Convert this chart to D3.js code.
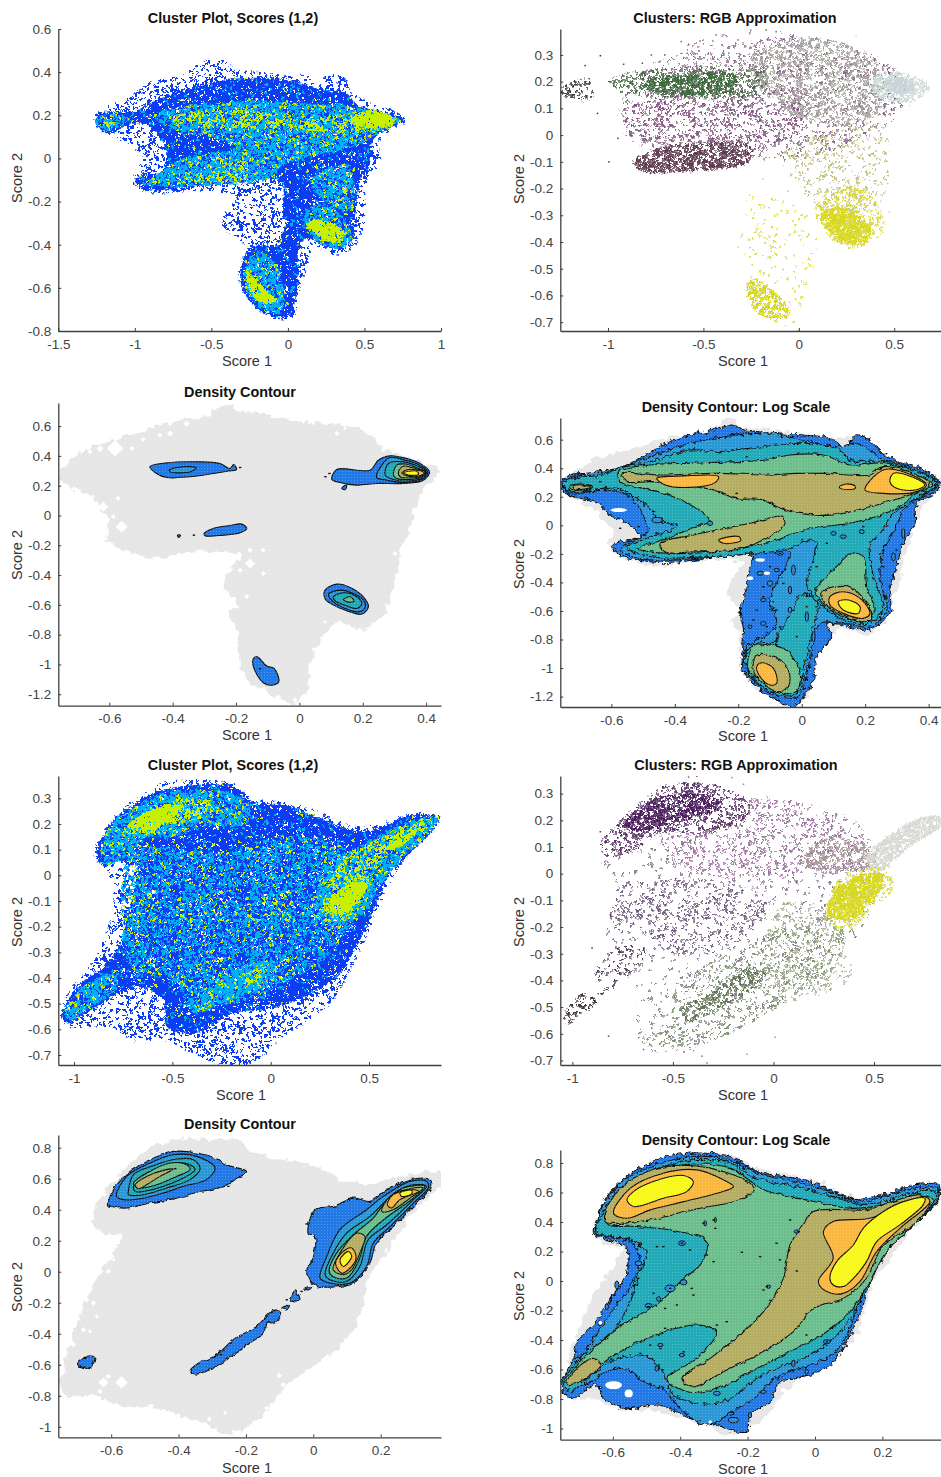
<!DOCTYPE html>
<html><head><meta charset="utf-8">
<script src="https://cdn.jsdelivr.net/npm/d3@7"></script>
<style>html,body{margin:0;background:#fff}svg{display:block}</style></head>
<body><svg id="c" width="941" height="1477"></svg>
<script>
// ---------- Panel 1: Cluster plot (density classes)
const p1Sparse=[[-1.27,.17],[-1.25,.21],[-1.12,.26],[-1.01,.30],[-.88,.36],[-.68,.39],[-.55,.455],[-.42,.45],[-.335,.415],[-.16,.40],[.01,.385],[.12,.385],[.19,.35],[.25,.385],[.36,.38],[.415,.31],[.535,.26],[.71,.215],[.775,.175],[.69,.14],[.60,.085],[.60,-.015],[.515,-.105],[.505,-.26],[.47,-.37],[.34,-.45],[.165,-.415],[.12,-.52],[.08,-.6],[.035,-.735],[-.05,-.745],[-.205,-.70],[-.30,-.60],[-.325,-.52],[-.27,-.415],[-.42,-.32],[-.42,-.26],[-.335,-.18],[-.575,-.15],[-.90,-.16],[-1.01,-.12],[-1.0,-.06],[-.945,0],[-1.01,.05],[-1.08,.085],[-1.185,.11]];
const p1Dense=[[-1.26,.17],[-1.2,.215],[-1.01,.215],[-.92,.25],[-.75,.30],[-.6,.33],[-.335,.37],[-.03,.365],[.19,.325],[.385,.30],[.45,.25],[.625,.215],[.755,.18],[.665,.14],[.555,.085],[.535,-.03],[.47,-.105],[.44,-.26],[.415,-.385],[.30,-.42],[.12,-.37],[.07,-.415],[.07,-.555],[.01,-.72],[-.075,-.735],[-.205,-.69],[-.30,-.6],[-.30,-.49],[-.25,-.415],[-.05,-.385],[-.03,-.215],[-.05,-.105],[-.335,-.115],[-.68,-.135],[-.92,-.145],[-1.0,-.105],[-.945,-.075],[-.835,-.065],[-.79,.015],[-.835,.095],[-.92,.155],[-1.05,.155],[-1.16,.115]];
const p1Cyan=[
[[-.88,.20],[-.684,.24],[-.466,.255],[-.205,.27],[.10,.255],[.405,.24],[.623,.214],[.732,.178],[.645,.14],[.536,.094],[.405,.048],[.187,.017],[-.03,-.03],[-.16,-.106],[-.466,-.122],[-.815,-.13],[-.924,-.106],[-.815,-.06],[-.684,0],[-.335,.048],[-.466,.094],[-.77,.14]],
[[-1.26,.17],[-1.175,.205],[-1.03,.18],[-1.175,.13]],
[[.10,-.275],[.185,-.215],[.32,-.245],[.415,-.37],[.32,-.415],[.165,-.37]],
[[.145,-.105],[.385,-.03],[.415,-.245],[.25,-.2]],
[[-.28,-.505],[-.205,-.43],[-.075,-.49],[-.03,-.615],[-.05,-.72],[-.205,-.675],[-.28,-.6]]];
const p1Yellow=[
[[-.79,.185],[-.466,.225],[-.16,.215],[.187,.185],[.45,.21],[.71,.178],[.536,.125],[.187,.125],[-.16,.14],[-.466,.14],[-.684,.155]],
[[-.705,-.106],[-.53,-.06],[-.27,-.014],[-.27,-.09],[-.53,-.106]],
[[-1.23,.163],[-1.12,.17],[-1.185,.148]]];
const p1Solid=[
[[.405,.178],[.536,.225],[.69,.186],[.69,.155],[.514,.14]],
[[.12,-.306],[.21,-.283],[.36,-.337],[.34,-.39],[.253,-.383]],
[[-.27,-.52],[-.205,-.568],[-.075,-.66],[-.16,-.675],[-.248,-.614]]];
// ---------- Panel 5: Cluster plot
const p5Sparse=[[-1.07,-.544],[-1.02,-.447],[-.934,-.369],[-.85,-.252],[-.80,-.083],[-.832,.02],[-.90,.073],[-.832,.19],[-.73,.274],[-.613,.332],[-.545,.365],[-.376,.371],[-.173,.352],[-.105,.30],[.064,.287],[.217,.255],[.403,.196],[.555,.196],[.707,.242],[.86,.235],[.843,.19],[.741,.112],[.657,.034],[.572,-.083],[.487,-.239],[.403,-.369],[.318,-.486],[.064,-.629],[-.105,-.732],[-.274,-.732],[-.393,-.694],[-.562,-.642],[-.70,-.642],[-.816,-.59],[-1.02,-.59]];
const p5Dense=[[-1.06,-.544],[-.985,-.434],[-.85,-.356],[-.782,-.291],[-.731,-.174],[-.697,.047],[-.883,.053],[-.866,.125],[-.80,.216],[-.714,.268],[-.579,.326],[-.376,.352],[-.19,.345],[-.122,.294],[.064,.274],[.233,.229],[.403,.177],[.538,.177],[.69,.229],[.851,.229],[.826,.177],[.707,.086],[.606,.008],[.538,-.109],[.453,-.252],[.352,-.382],[.233,-.447],[.047,-.512],[-.19,-.538],[-.393,-.616],[-.528,-.59],[-.545,-.486],[-.697,-.434],[-.832,-.486],[-.968,-.551],[-1.036,-.577]];
const p5CyanLow=[[[-.731,.06],[-.613,.112],[-.274,.086],[.064,.151],[.318,.125],[.403,.021],[.437,-.135],[.284,-.317],[.064,-.421],[-.19,-.499],[-.409,-.525],[-.477,-.421],[-.697,-.369],[-.748,-.239]]];
const p5Cyan=[
[[-.866,.06],[-.816,.19],[-.714,.255],[-.562,.319],[-.359,.332],[-.19,.319],[-.105,.268],[-.122,.203],[-.359,.19],[-.477,.151],[-.646,.144],[-.731,.073],[-.832,.04]],
[[.233,-.135],[.284,.021],[.504,.138],[.673,.203],[.851,.229],[.775,.138],[.657,.06],[.555,-.044],[.453,-.161],[.318,-.187]],
[[-1.05,-.538],[-.951,-.434],[-.799,-.382],[-.782,-.434],[-.934,-.525],[-1.02,-.564]],
[[-.409,-.525],[-.274,-.421],[-.105,-.343],[.03,-.343],[-.037,-.434],[-.206,-.486],[-.376,-.538]]];
const p5Yellow=[
[[-.748,.177],[-.613,.255],[-.41,.30],[-.274,.28],[-.325,.229],[-.528,.19],[-.663,.151]],
[[.267,-.135],[.369,.06],[.572,.151],[.81,.222],[.707,.138],[.555,.047],[.453,-.109],[.369,-.174]],
[[-.139,-.395],[-.037,-.356],[-.054,-.408],[-.139,-.421]]];
const p5Solid=[
[[.318,-.083],[.403,-.031],[.487,-.031],[.386,-.148],[.301,-.135]],
[[.572,.099],[.741,.177],[.673,.118]],
[[-.731,.19],[-.545,.274],[-.443,.268],[-.613,.177]]];
// ---------- Panel 2: RGB approximation, regions: [colour, density class, outline]
const p2Regions=[
["#8a6a88","low",[[-.95,.05],[-.8,.25],[-.4,.33],[0,.37],[.4,.3],[.6,.15],[.45,.03],[.2,-.05],[-.1,-.1],[-.4,-.05],[-.8,-.05]]],
["#9a7a98","vlow",[[-.642,.319],[-.433,.375],[-.171,.394],[.056,.362],[.056,.25],[-.258,.25],[-.607,.25]]],
["#85507f","low",[[-.887,.137],[-.433,.15],[.056,.162],[.021,.037],[-.188,-.05],[-.572,-.025],[-.8,-.025],[-.904,.012]]],
["#4a6a45","mid",[[-.991,.206],[-.87,.237],[-.346,.256],[-.171,.237],[-.188,.162],[-.782,.144],[-.991,.175]]],
["#3c3c3c","mid",[[-1.25,.175],[-1.09,.21],[-1.09,.131],[-1.25,.15]]],
["#3d6a3d","high",[[-.80,.2],[-.66,.219],[-.328,.225],[-.328,.169],[-.64,.15],[-.80,.169]]],
["#5f3a50","high",[[-.87,-.1],[-.712,-.044],[-.433,-.025],[-.258,-.037],[-.258,-.1],[-.607,-.137],[-.817,-.137]]],
["#a8a8a0","mid",[[-.258,.287],[.056,.362],[.265,.337],[.405,.275],[.44,.1],[.265,.037],[.056,.05],[-.153,.125]]],
["#cddbd6","high",[[.37,.187],[.44,.237],[.527,.237],[.684,.181],[.614,.131],[.44,.131]]],
["#c8d4d8","full",[[.44,.19],[.53,.219],[.61,.181],[.54,.15]]],
["#c0c080","low",[[-.101,-.088],[.096,0],[.44,.037],[.475,-.088],[.44,-.238],[.37,-.288],[.09,-.262],[-.014,-.175]]],
["#dcdc50","vlow",[[-.31,-.412],[-.258,-.225],[-.014,-.262],[.09,-.338],[.073,-.512],[.021,-.662],[-.049,-.725],[-.171,-.688],[-.276,-.588],[-.276,-.5]]],
["#d8d840","mid",[[.09,-.262],[.23,-.188],[.37,-.212],[.44,-.362],[.265,-.425],[.108,-.338]]],
["#d8d820","full",[[.108,-.3],[.213,-.269],[.353,-.325],[.387,-.375],[.265,-.412],[.16,-.362]]],
["#d4d41c","high",[[-.276,-.575],[-.241,-.538],[-.101,-.6],[-.049,-.675],[-.136,-.688],[-.223,-.662]]]];
const p2PointX=[-1.04,-1.12,-1.055,-.918,-.82,-.773,-.703,-.616,-.517,-.433,-.319,-.171,-.119,.056,.3,-.995,-.948,-.188,-.258,-.058,.475,.466,-.319,-.005];
const p2PointY=[.297,.26,.081,.265,.269,.3,.3,.35,.352,.375,.356,.394,.387,.362,.369,-.1,-.012,-.165,-.225,-.21,-.288,-.181,-.419,-.731];
const p2PointC=["#333","#333","#333","#456","#456","#654","#654","#865","#865","#865","#865","#865","#865","#9a9","#cdc","#533","#533","#cc9","#dd6","#cc8","#dd6","#cc8","#dd6","#dd3"];
// ---------- Panel 6
const p6Regions=[
["#8a7a90","vlow",[[-.85,.05],[-.6,.1],[-.2,.25],[.3,.2],[.55,.05],[.45,-.2],[.3,-.35],[0,-.5],[-.3,-.65],[-.65,-.65],[-.7,-.4],[-.85,-.35],[-.8,-.1]]],
["#a070a0","low",[[-.116,.275],[.215,.25],[.463,.163],[.463,.014],[.215,.014],[-.017,-.024],[-.281,-.011],[-.447,.026],[-.563,.138],[-.116,.176]]],
["#6f5a80","low",[[-.712,-.036],[-.281,-.024],[-.017,-.111],[-.182,-.26],[-.447,-.31],[-.645,-.235],[-.793,-.21],[-.81,-.073]]],
["#4a3a55","low",[[-.893,-.385],[-.727,-.26],[-.628,-.285],[-.76,-.41],[-.86,-.46]]],
["#7d9070","low",[[-.53,-.559],[-.48,-.422],[-.149,-.273],[.132,-.186],[.348,-.21],[.298,-.36],[.05,-.484],[-.248,-.609],[-.447,-.659],[-.679,-.621]]],
["#a8b090","low",[[.05,-.111],[.265,-.148],[.348,-.235],[.38,-.385],[.083,-.472],[-.05,-.36]]],
["#5a7050","mid",[[-.464,-.51],[-.314,-.447],[-.116,-.347],[-.033,-.372],[-.116,-.435],[-.314,-.522],[-.43,-.553]]],
["#3c3038","mid",[[-1.043,-.534],[-.943,-.447],[-.876,-.484],[-.976,-.534],[-1.026,-.565]]],
["#5a3468","mid",[[-.86,.113],[-.76,.2],[-.645,.281],[-.53,.331],[-.281,.331],[-.116,.263],[-.132,.2],[-.314,.151],[-.563,.151],[-.695,.088],[-.843,.063]]],
["#4a1a5c","high",[[-.752,.182],[-.645,.257],[-.48,.3],[-.281,.281],[-.265,.244],[-.447,.2],[-.612,.163],[-.711,.157]]],
["#a89a98","mid",[[.182,.101],[.38,.138],[.513,.076],[.463,.014],[.281,.001],[.149,.039]]],
["#d8d8d4","full",[[.463,.064],[.612,.163],[.745,.213],[.828,.213],[.828,.176],[.679,.101],[.546,.014],[.48,.001]]],
["#d8d840","mid",[[.25,-.17],[.33,-.02],[.55,.02],[.6,-.05],[.48,-.14],[.4,-.2],[.3,-.2]]],
["#d8d820","full",[[.265,-.136],[.348,-.036],[.53,.001],[.546,-.042],[.463,-.123],[.397,-.173],[.315,-.173]]]];
const p6PointX=[-.82,-.646,-.902,-.861,-.381,-.422,-.207,-.149,-.331,-.356,-.132,.008,.579,.19,-.811,-.712];
const p6PointY=[-.609,-.659,-.279,.157,.365,.362,.36,.335,-.709,-.684,-.677,-.613,-.042,.257,-.154,-.042];
const p6PointC=["#555","#675","#534","#534","#858","#858","#a7a","#a7a","#786","#786","#8a7","#9a8","#cc6","#c9c","#534","#534"];
// ---------- Panels 3 and 4 share the density support
const gray34=[[-.761,.304],[-.724,.371],[-.661,.461],[-.556,.528],[-.493,.562],[-.429,.617],[-.366,.64],[-.293,.662],[-.251,.74],[-.214,.752],[-.198,.685],[-.114,.685],[-.008,.64],[.076,.617],[.139,.617],[.202,.573],[.265,.438],[.349,.394],[.449,.304],[.402,.192],[.371,.103],[.355,-.031],[.318,-.255],[.307,-.412],[.281,-.568],[.265,-.68],[.202,-.77],[.118,-.702],[.065,-.837],[.034,-.993],[.023,-1.195],[-.024,-1.273],[-.072,-1.217],[-.156,-1.128],[-.187,-1.016],[-.198,-.747],[-.229,-.658],[-.187,-.613],[-.24,-.479],[-.219,-.367],[-.177,-.255],[-.261,-.233],[-.366,-.255],[-.472,-.289],[-.556,-.233],[-.608,-.177],[-.598,-.031],[-.64,.081],[-.661,.125],[-.724,.192],[-.756,.237]];
const holes3=[[-.582,.45,.026],[-.629,.45,.011],[-.661,.427,.008],[-.529,.45,.008],[-.493,.51,.008],[-.44,.539,.008],[-.408,.55,.01],[-.356,.617,.01],[-.408,.617,.008],[-.572,.114,.008],[-.619,.058,.016],[-.587,-.009,.008],[-.561,-.076,.019],[-.156,-.233,.008],[-.114,-.233,.008],[-.156,-.322,.016],[-.114,-.389,.008],[-.187,-.367,.008],[-.166,-.546,.008],[.118,.55,.008],[.144,.584,.006],[.013,.629,.006],[.071,.629,.006],[.302,-.255,.008],[.081,-.714,.006],[-.014,-1.239,.008]];
const p3Contours=[
[0,[[-.472,.327],[-.419,.353],[-.324,.36],[-.251,.349],[-.219,.315],[-.208,.342],[-.198,.309],[-.224,.298],[-.282,.278],[-.345,.26],[-.419,.255],[-.451,.282]]],
[1,[[-.411,.304],[-.366,.327],[-.326,.32],[-.34,.295],[-.382,.286],[-.406,.291]]],
[0,[[.102,.242],[.118,.309],[.223,.304],[.249,.371],[.286,.4],[.339,.382],[.381,.349],[.411,.293],[.392,.237],[.328,.215],[.244,.215],[.181,.204],[.118,.226]]],
[1,[[.244,.255],[.26,.338],[.286,.389],[.334,.371],[.376,.342],[.405,.293],[.389,.244],[.328,.221],[.276,.237]]],
[2,[[.271,.271],[.281,.349],[.328,.36],[.371,.333],[.402,.293],[.386,.248],[.328,.231],[.297,.242]]],
[3,[[.297,.271],[.307,.338],[.334,.345],[.376,.315],[.399,.291],[.383,.255],[.328,.242],[.307,.248]]],
[4,[[.313,.293],[.328,.331],[.371,.311],[.397,.291],[.381,.26],[.344,.253],[.318,.26]]],
[5,[[.323,.286],[.344,.309],[.381,.3],[.394,.286],[.376,.264],[.344,.264]]],
[6,[[.328,.286],[.371,.297],[.376,.277],[.344,.271]]],
[0,[[-.301,-.121],[-.272,-.087],[-.219,-.067],[-.182,-.058],[-.166,-.087],[-.187,-.116],[-.24,-.132],[-.298,-.136]]],
[0,[[.081,-.501],[.118,-.461],[.16,-.483],[.202,-.546],[.218,-.613],[.197,-.662],[.149,-.64],[.102,-.595],[.081,-.559]]],
[1,[[.092,-.528],[.129,-.501],[.165,-.519],[.202,-.568],[.207,-.617],[.186,-.647],[.144,-.624],[.107,-.579]]],
[2,[[.107,-.546],[.139,-.519],[.181,-.546],[.197,-.595],[.181,-.624],[.144,-.602],[.113,-.573]]],
[3,[[.139,-.564],[.16,-.546],[.173,-.575],[.155,-.582]]],
[0,[[-.145,-.96],[-.133,-.949],[-.103,-1.011],[-.08,-1.027],[-.065,-1.116],[-.087,-1.139],[-.114,-1.123],[-.145,-1.016]]],
[0,[[.137,.192],[.149,.204],[.145,.174],[.134,.181]]],
[0,[[-.385,-.132],[-.375,-.132],[-.381,-.148]]]];
const p3Specks=[[-.187,.322],[.095,.282],[.082,.26],[-.333,-.132],[-.124,-1.029]];
const p4Contours=[
[0,[[-.761,.294],[-.729,.353],[-.666,.364],[-.593,.388],[-.519,.458],[-.446,.551],[-.373,.621],[-.299,.657],[-.215,.703],[-.194,.68],[-.1,.645],[.005,.633],[.089,.61],[.131,.551],[.173,.633],[.205,.61],[.257,.505],[.31,.446],[.383,.388],[.435,.306],[.425,.236],[.362,.154],[.357,.014],[.32,-.126],[.299,-.29],[.278,-.453],[.278,-.617],[.205,-.734],[.131,-.699],[.079,-.687],[.094,-.78],[.047,-.921],[.037,-1.084],[.005,-1.201],[-.026,-1.271],[-.079,-1.224],[-.142,-1.131],[-.184,-1.014],[-.184,-.734],[-.194,-.593],[-.173,-.43],[-.163,-.29],[-.152,-.22],[-.226,-.196],[-.331,-.243],[-.477,-.255],[-.582,-.196],[-.598,-.138],[-.509,-.079],[-.551,.014],[-.614,.084],[-.635,.154],[-.719,.201],[-.75,.236]]],
[1,[[-.755,.29],[-.719,.341],[-.582,.4],[-.404,.54],[-.352,.575],[-.205,.633],[-.11,.645],[.005,.598],[.11,.551],[.173,.575],[.226,.505],[.257,.458],[.32,.423],[.43,.294],[.362,.178],[.32,.107],[.299,-.009],[.257,-.173],[.247,-.36],[.268,-.593],[.215,-.71],[.131,-.687],[.058,-.687],[.037,-.827],[.016,-1.037],[-.01,-1.201],[-.068,-1.201],[-.142,-1.107],[-.178,-.991],[-.173,-.85],[-.121,-.78],[-.079,-.687],[-.1,-.523],[-.068,-.36],[-.037,-.196],[-.1,-.173],[-.205,-.208],[-.331,-.231],[-.477,-.243],[-.572,-.173],[-.519,-.091],[-.488,-.056],[-.498,.061],[-.54,.201],[-.614,.248],[-.666,.236],[-.729,.224]]],
[2,[[-.755,.294],[-.719,.329],[-.635,.353],[-.577,.4],[-.477,.446],[-.352,.528],[-.268,.516],[-.163,.54],[.005,.575],[.121,.528],[.152,.458],[.257,.446],[.362,.376],[.425,.294],[.352,.178],[.299,.107],[.247,-.056],[.215,-.126],[.226,-.36],[.257,-.593],[.205,-.687],[.11,-.64],[.047,-.523],[.016,-.43],[.047,-.126],[.026,-.103],[-.058,-.173],[-.142,-.196],[-.289,-.22],[-.477,-.22],[-.551,-.15],[-.488,-.091],[-.393,-.009],[-.446,.037],[-.498,.154],[-.582,.259],[-.645,.248],[-.729,.236]]],
[2,[[-.178,-.967],[-.163,-.85],[-.068,-.827],[-.026,-.897],[.005,-.991],[-.016,-1.178],[-.068,-1.189],[-.142,-1.095]]],
[2,[[-.08,-.83],[-.03,-.6],[0,-.48],[.05,-.55],[.03,-.75],[0,-1.0]]],
[3,[[-.577,.376],[-.477,.423],[-.352,.435],[-.205,.446],[-.11,.458],[-.037,.493],[.068,.493],[.152,.423],[.257,.435],[.362,.353],[.414,.283],[.362,.224],[.289,.107],[.152,.014],[.026,-.021],[-.11,-.126],[-.226,-.173],[-.425,-.196],[-.519,-.161],[-.456,-.114],[-.331,-.009],[-.289,.026],[-.341,.131],[-.435,.224],[-.498,.259],[-.572,.306]]],
[3,[[.042,-.465],[.1,-.313],[.157,-.196],[.194,-.22],[.205,-.43],[.231,-.593],[.199,-.675],[.131,-.64],[.079,-.57]]],
[3,[[-.168,-.921],[-.152,-.85],[-.058,-.862],[-.005,-1.037],[-.016,-1.154],[-.068,-1.178],[-.131,-1.084],[-.168,-1.014]]],
[3,[[-.729,.276],[-.692,.29],[-.66,.266],[-.692,.248],[-.729,.257]]],
[4,[[-.719,.276],[-.692,.283],[-.666,.266],[-.692,.252],[-.719,.259]]],
[4,[[-.568,.364],[-.447,.353],[-.268,.364],[-.11,.353],[-.016,.364],[.079,.364],[.215,.353],[.257,.411],[.383,.329],[.404,.276],[.341,.213],[.215,.131],[.1,.072],[-.005,.084],[-.068,.119],[-.121,.178],[-.21,.189],[-.278,.248],[-.383,.283],[-.477,.306],[-.551,.306]]],
[4,[[-.446,-.126],[-.341,-.068],[-.163,.014],[-.058,.061],[-.058,.002],[-.11,-.091],[-.215,-.173],[-.341,-.185],[-.435,-.185]]],
[4,[[.06,-.477],[.1,-.43],[.152,-.43],[.205,-.547],[.22,-.64],[.194,-.675],[.131,-.628],[.079,-.558]]],
[4,[[-.152,-.956],[-.142,-.909],[-.079,-.932],[-.042,-1.014],[-.042,-1.131],[-.079,-1.166],[-.121,-1.107],[-.152,-1.026]]],
[5,[[-.457,.329],[-.373,.346],[-.262,.341],[-.273,.299],[-.352,.266],[-.43,.283]]],
[5,[[.199,.248],[.257,.388],[.32,.376],[.393,.283],[.362,.236],[.257,.224]]],
[5,[[.119,.271],[.142,.29],[.168,.276],[.168,.257],[.121,.259]]],
[5,[[-.262,-.103],[-.199,-.079],[-.192,-.107],[-.247,-.126]]],
[5,[[.089,-.5],[.131,-.465],[.184,-.512],[.215,-.617],[.194,-.652],[.131,-.617],[.089,-.558]]],
[5,[[-.142,-.991],[-.126,-.963],[-.089,-1.002],[-.079,-1.107],[-.1,-1.119],[-.131,-1.061]]],
[6,[[.278,.306],[.289,.364],[.331,.353],[.388,.283],[.357,.248],[.299,.259]]],
[6,[[.115,-.535],[.147,-.523],[.184,-.57],[.178,-.617],[.131,-.593]]]];
const p4Specks=[[-.058,-.407],[-.121,-.5],[-.079,-.593],[-.142,-.593],[-.016,-.78],[.047,-.57],[.016,-.57],[.079,-.126],[.131,.002],[.194,-.009],[.257,-.29],[.289,-.36],[-.1,-.29],[-.068,-.196],[-.121,-.43],[-.152,-.664],[-.11,-.71],[-.205,.224],[-.152,.189],[-.635,.306],[-.257,.509],[-.173,.481],[-.383,.505],[-.514,-.009],[-.572,-.021],[-.394,.002],[.257,-.173],[.299,-.173],[-.058,.119],[.026,-.313],[.047,-.29]];
const p4Rings=[[-.068,-.196,.01,.014],[-.079,-.313,.008,.012],[-.026,-.313,.006,.035],[-.131,-.336,.01,.014],[-.1,-.407,.008,.019],[-.037,-.453,.005,.028],[-.121,-.523,.008,.012],[-.037,-.593,.006,.019],[.016,-.64,.005,.035],[-.163,-.71,.006,.012],[-.121,-.687,.008,.014],[.037,-.78,.005,.035],[.131,-.079,.01,.012],[.1,-.056,.008,.014],[.189,-.044,.008,.014],[.289,-.22,.006,.028],[.32,-.056,.005,.035],[-.289,.014,.008,.016],[-.456,.037,.016,.019]];
const p4Gaps=[[-.131,-.243,.015,.012],[-.11,-.336,.01,.012],[-.163,-.371,.01,.014],[-.577,.107,.026,.014]];
// ---------- Panels 7 and 8 share the density support
const gray78=[[-.757,-.74],[-.722,-.46],[-.678,-.181],[-.633,-.009],[-.584,.163],[-.569,.228],[-.623,.249],[-.658,.314],[-.648,.422],[-.608,.551],[-.554,.68],[-.485,.809],[-.386,.862],[-.228,.852],[-.188,.776],[-.089,.723],[.01,.68],[.079,.594],[.158,.561],[.257,.615],[.376,.658],[.381,.551],[.326,.465],[.267,.292],[.208,.099],[.168,-.009],[.148,-.202],[.129,-.353],[.059,-.525],[-.049,-.675],[-.109,-.804],[-.148,-.933],[-.218,-1.019],[-.267,-1.052],[-.317,-.976],[-.396,-.933],[-.485,-.869],[-.564,-.869],[-.643,-.804],[-.722,-.804]];
const holes7=[[-.569,-.714,.018],[-.623,-.714,.015],[-.608,-.675,.008],[-.633,-.772,.008],[-.673,-.181,.008],[-.653,-.202,.008],[-.643,-.288,.006],[-.682,-.374,.008],[-.663,-.385,.006],[-.712,-.471,.008],[-.633,.002,.01],[-.608,.002,.008],[-.593,.077,.006],[-.574,.232,.008],[.025,-.596,.01],[-.101,-.671,.008],[-.089,-.729,.008],[-.138,-.88,.008],[-.262,-.912,.006],[-.309,-.951,.008],[-.401,-.929,.008],[.079,.594,.008]];
const p7Contours=[
[0,[[-.608,.432],[-.593,.529],[-.544,.647],[-.485,.723],[-.416,.776],[-.346,.766],[-.292,.734],[-.257,.69],[-.198,.647],[-.218,.615],[-.267,.55],[-.336,.518],[-.406,.475],[-.485,.443],[-.554,.411],[-.594,.417]]],
[1,[[-.584,.486],[-.554,.615],[-.485,.701],[-.416,.755],[-.346,.744],[-.292,.67],[-.317,.594],[-.386,.551],[-.445,.508],[-.514,.471],[-.564,.465]]],
[2,[[-.549,.518],[-.534,.626],[-.475,.684],[-.406,.727],[-.356,.723],[-.336,.665],[-.366,.594],[-.435,.54],[-.504,.497],[-.549,.497]]],
[2,[[-.534,.551],[-.504,.626],[-.445,.675],[-.406,.701],[-.366,.69],[-.351,.658],[-.386,.604],[-.445,.551],[-.504,.518],[-.529,.518]]],
[3,[[-.534,.57],[-.485,.647],[-.425,.701],[-.376,.69],[-.366,.658],[-.406,.615],[-.465,.561],[-.519,.54]]],
[4,[[-.529,.561],[-.495,.615],[-.445,.654],[-.416,.662],[-.455,.615],[-.495,.561],[-.519,.535]]],
[0,[[-.015,.249],[.005,.4],[.059,.421],[.119,.475],[.168,.454],[.218,.529],[.287,.594],[.346,.594],[.351,.551],[.307,.443],[.248,.314],[.188,.185],[.168,.056],[.119,-.073],[.059,-.099],[0,-.084],[-.02,.002],[0,.099],[.005,.228]]],
[1,[[.02,-.041],[.04,.099],[.079,.271],[.158,.4],[.208,.486],[.287,.583],[.336,.583],[.341,.54],[.297,.443],[.228,.292],[.178,.185],[.158,.034],[.109,-.073],[.049,-.073]]],
[2,[[.035,-.019],[.059,.12],[.099,.249],[.168,.357],[.247,.518],[.297,.561],[.336,.551],[.297,.465],[.218,.303],[.163,.206],[.138,.034],[.099,-.062],[.049,-.052]]],
[3,[[.047,.002],[.069,.12],[.119,.239],[.178,.346],[.208,.432],[.267,.54],[.331,.551],[.297,.475],[.208,.335],[.158,.228],[.134,.067],[.099,-.041],[.059,-.032]]],
[4,[[.059,.013],[.079,.12],[.129,.249],[.153,.228],[.138,.12],[.114,.013],[.089,-.019]]],
[4,[[.203,.389],[.228,.486],[.297,.54],[.326,.54],[.287,.475],[.237,.4]]],
[5,[[.066,.056],[.089,.131],[.114,.153],[.127,.088],[.104,.013],[.084,-.009]]],
[5,[[.22,.432],[.237,.497],[.297,.529],[.312,.518],[.257,.465],[.232,.411]]],
[6,[[.079,.077],[.104,.131],[.114,.099],[.089,.034]]],
[6,[[.257,.508],[.292,.525],[.292,.503],[.262,.486]]],
[0,[[-.366,-.643],[-.341,-.589],[-.287,-.535],[-.232,-.428],[-.168,-.353],[-.124,-.256],[-.099,-.252],[-.099,-.299],[-.124,-.331],[-.134,-.32],[-.148,-.396],[-.188,-.46],[-.228,-.525],[-.307,-.632],[-.351,-.66]]],
[0,[[-.067,-.181],[-.054,-.123],[-.04,-.181],[-.054,-.196]]],
[0,[[-.094,-.234],[-.074,-.217],[-.079,-.245]]],
[0,[[-.025,-.105],[-.005,-.095],[-.01,-.112],[-.02,-.116]]],
[0,[[-.7,-.596],[-.672,-.546],[-.649,-.553],[-.664,-.622]]]];
const p7Specks=[[-.02,.308],[-.242,.583],[-.252,.551],[-.079,-.181],[-.035,-.127],[-.274,-.535],[-.41,.665]];
const p8Contours=[
[0,[[-.751,-.717],[-.716,-.525],[-.707,-.412],[-.657,-.299],[-.618,-.163],[-.558,.063],[-.558,.222],[-.657,.324],[-.647,.414],[-.627,.538],[-.578,.674],[-.509,.776],[-.44,.844],[-.361,.867],[-.252,.844],[-.173,.742],[-.035,.686],[.035,.629],[.104,.561],[.203,.584],[.301,.652],[.366,.652],[.366,.538],[.301,.403],[.242,.29],[.163,-.005],[.143,-.163],[.094,-.412],[.044,-.57],[-.054,-.661],[-.104,-.683],[-.133,-.819],[-.193,-.91],[-.203,-1.023],[-.292,-.977],[-.371,-.932],[-.459,-.842],[-.568,-.864],[-.627,-.796],[-.647,-.706],[-.726,-.796]]],
[1,[[-.751,-.706],[-.711,-.525],[-.687,-.491],[-.618,-.253],[-.558,-.072],[-.519,.131],[-.548,.267],[-.652,.33],[-.637,.471],[-.578,.663],[-.499,.765],[-.361,.844],[-.252,.821],[-.173,.731],[-.035,.663],[.044,.606],[.124,.538],[.222,.584],[.301,.629],[.366,.629],[.361,.538],[.292,.391],[.222,.244],[.163,.018],[.128,-.163],[.084,-.412],[.035,-.525],[-.074,-.615],[-.133,-.683],[-.183,-.796],[-.232,-.864],[-.321,-.977],[-.39,-.887],[-.45,-.729],[-.499,-.695],[-.548,-.615],[-.598,-.593],[-.687,-.706]]],
[2,[[-.746,-.695],[-.687,-.502],[-.608,-.367],[-.548,-.14],[-.529,.018],[-.499,.199],[-.548,.278],[-.647,.335],[-.632,.448],[-.568,.64],[-.489,.742],[-.361,.821],[-.252,.799],[-.173,.697],[-.035,.629],[.054,.572],[.133,.52],[.222,.55],[.301,.606],[.361,.606],[.351,.527],[.292,.38],[.212,.222],[.153,-.027],[.104,-.253],[.044,-.412],[-.035,-.525],[-.114,-.593],[-.173,-.661],[-.272,-.819],[-.371,-.819],[-.43,-.751],[-.44,-.661],[-.489,-.525],[-.588,-.525],[-.677,-.661],[-.726,-.751]]],
[3,[[-.741,-.683],[-.677,-.502],[-.578,-.31],[-.459,-.14],[-.39,.018],[-.341,.109],[-.321,.267],[-.43,.346],[-.529,.369],[-.618,.391],[-.593,.538],[-.539,.663],[-.459,.753],[-.361,.792],[-.252,.765],[-.183,.663],[-.153,.618],[-.074,.572],[.025,.527],[.104,.493],[.203,.516],[.301,.584],[.351,.55],[.292,.38],[.212,.199],[.163,-.005],[.104,-.208],[.035,-.344],[-.074,-.48],[-.173,-.593],[-.292,-.729],[-.38,-.751],[-.44,-.661],[-.351,-.525],[-.292,-.344],[-.351,-.299],[-.459,-.355],[-.588,-.491],[-.667,-.615]]],
[4,[[-.623,.403],[-.608,.538],[-.539,.696],[-.44,.776],[-.311,.765],[-.193,.663],[-.183,.618],[-.222,.55],[-.341,.493],[-.489,.414],[-.588,.391]]],
[4,[[-.395,-.661],[-.311,-.525],[-.212,-.344],[-.153,-.208],[-.094,.018],[-.074,.244],[-.035,.38],[-.005,.471],[.153,.482],[.203,.516],[.312,.584],[.341,.538],[.292,.38],[.203,.244],[.153,.018],[.084,-.118],[-.005,-.186],[-.064,-.344],[-.153,-.48],[-.272,-.615],[-.361,-.717]]],
[4,[[-.736,-.695],[-.707,-.593],[-.657,-.525],[-.635,-.57],[-.667,-.638],[-.711,-.695]]],
[5,[[-.598,.459],[-.548,.629],[-.45,.731],[-.351,.753],[-.272,.686],[-.242,.64],[-.291,.595],[-.39,.538],[-.489,.482],[-.558,.425]]],
[5,[[.01,-.005],[.054,.154],[.025,.335],[.054,.403],[.163,.425],[.252,.516],[.326,.572],[.341,.538],[.252,.357],[.183,.199],[.133,-.005],[.084,-.084],[.035,-.072]]],
[6,[[-.558,.55],[-.539,.606],[-.48,.674],[-.391,.715],[-.361,.674],[-.381,.606],[-.45,.561],[-.539,.505]]],
[6,[[.044,.018],[.064,.131],[.114,.244],[.143,.357],[.203,.471],[.262,.538],[.326,.561],[.321,.516],[.252,.38],[.183,.267],[.153,.131],[.114,.018],[.084,-.038],[.054,-.027]]]];
const p8Specks=[[-.301,.414],[-.296,.357],[-.331,.391],[-.469,.233],[-.45,.233],[-.395,.256],[-.371,.21],[-.321,.176],[-.301,.131],[-.524,.018],[-.479,-.084],[-.43,-.05],[-.366,-.05],[-.361,-.095],[-.445,-.186],[-.41,-.163],[-.494,-.174],[-.291,-.299],[-.445,-.321],[-.262,-.276],[-.153,-.061],[-.143,-.038],[-.104,.143],[-.163,.165],[-.217,.195],[-.114,.256],[-.074,.414],[-.049,.335],[-.054,.068],[-.489,-.434],[-.459,-.457],[-.39,-.48],[-.519,-.491],[-.464,-.593],[-.543,-.615],[-.025,-.367],[.035,-.412]];
const p8Rings=[[-.524,.12,.01,.016],[-.395,.256,.01,.016],[-.43,-.05,.015,.023],[-.39,-.009,.01,.018],[-.464,-.122,.006,.016],[-.494,-.167,.01,.014],[-.588,-.027,.006,.027],[-.618,-.174,.005,.018],[-.638,-.287,.006,.018],[-.469,-.593,.006,.018],[-.395,-.502,.008,.011],[-.459,-.434,.008,.011],[-.242,-.943,.015,.018],[-.193,-.91,.005,.018],[-.291,-.762,.01,.014],[-.153,-.751,.008,.011],[-.064,-.559,.005,.023],[-.025,-.615,.005,.018],[.035,-.412,.01,.014],[-.138,-.038,.006,.011],[-.296,.414,.003,.018],[-.054,.335,.008,.011],[-.326,.391,.004,.018]];
const p8Gaps=[[-.598,-.706,.025,.027],[-.553,-.762,.012,.027],[-.311,-.955,.005,.011],[-.094,-.74,.008,.014],[-.637,-.283,.006,.014]];
// ---------- tick labels
const ticks1X=[-1.5,-1,-.5,0,.5,1],ticks1Y=[-.8,-.6,-.4,-.2,0,.2,.4,.6];
const ticks2X=[-1,-.5,0,.5],ticks2Y=[-.7,-.6,-.5,-.4,-.3,-.2,-.1,0,.1,.2,.3];
const ticks3X=[-.6,-.4,-.2,0,.2,.4],ticks3Y=[-1.2,-1,-.8,-.6,-.4,-.2,0,.2,.4,.6];
const ticks5X=[-1,-.5,0,.5],ticks5Y=[-.7,-.6,-.5,-.4,-.3,-.2,-.1,0,.1,.2,.3];
const ticks7X=[-.6,-.4,-.2,0,.2],ticks7Y=[-1,-.8,-.6,-.4,-.2,0,.2,.4,.6,.8];
const levelColors=['#2079e6','#2a97d6','#20aab8','#6cbf8c','#b5ad62','#fbb840','#f8f81a'];

const svg=d3.select('#c'),defs=svg.append('defs');
function roughFilter(id,freq,scale){
  const f=defs.append('filter').attr('id',id).attr('x','-15%').attr('y','-15%').attr('width','130%').attr('height','130%');
  f.append('feTurbulence').attr('type','fractalNoise').attr('baseFrequency',freq).attr('numOctaves',2).attr('seed',4).attr('result','n');
  f.append('feDisplacementMap').attr('in','SourceGraphic').attr('in2','n').attr('scale',scale).attr('xChannelSelector','R').attr('yChannelSelector','G');
}
roughFilter('rough5',.22,7);
roughFilter('rough3',.18,4);
roughFilter('roughGray',.13,10);
roughFilter('fuzz',.5,6);
const weave=defs.append('pattern').attr('id','weave').attr('patternUnits','userSpaceOnUse').attr('width',3).attr('height',3);
weave.append('rect').attr('width',1).attr('height',1).attr('fill','#fff').attr('fill-opacity',.22);
let pid=0;const cache={};
// fill texture: fixed tile of small squares, stands in for overplotted markers inside a traced region
function dots(color,density,size){
  const key=color+density+size;
  if(cache[key])return cache[key];
  const id='t'+(pid++),tile=67;
  const p=defs.append('pattern').attr('id',id).attr('patternUnits','userSpaceOnUse').attr('width',tile).attr('height',tile);
  let s=(pid*2654435+12345)>>>0;
  let n=Math.round(density*tile*tile),dd='';
  for(let i=0;i<n;i++){
    s=(Math.imul(s,1664525)+1013904223)>>>0;const u=(s>>>8)%tile;
    s=(Math.imul(s,1664525)+1013904223)>>>0;const v=(s>>>8)%tile;
    dd+=`M${u} ${v}h${size}v${size}h-${size}z`;
  }
  p.append('path').attr('d',dd).attr('fill',color);
  return cache[key]=`url(#${id})`;
}
function panel(o){
  const x=d3.scaleLinear().domain(o.xd).range([o.l,o.r]);
  const y=d3.scaleLinear().domain(o.yd).range([o.b,o.t]);
  const cid='clip'+(pid++);
  defs.append('clipPath').attr('id',cid).append('rect').attr('x',o.l).attr('y',o.t).attr('width',o.r-o.l).attr('height',o.b-o.t);
  const g=svg.append('g');
  const clip=g.append('g').attr('clip-path',`url(#${cid})`);
  const plot=clip.append('g');
  const ax=g.append('g');
  ax.append('g').attr('transform',`translate(0,${o.b})`).call(d3.axisBottom(x).tickValues(o.xt).tickFormat(d=>String(d)).tickSizeInner(-3).tickSizeOuter(0).tickPadding(8)).call(st);
  ax.append('g').attr('transform',`translate(${o.l},0)`).call(d3.axisLeft(y).tickValues(o.yt).tickFormat(d=>String(d)).tickSizeInner(-3).tickSizeOuter(0).tickPadding(7)).call(st);
  g.append('text').attr('x',o.tx).attr('y',o.ty).attr('text-anchor','middle').attr('font-family','Liberation Sans').attr('font-weight','bold').attr('font-size',14.4).attr('fill','#111').text(o.title);
  g.append('text').attr('x',o.xlx).attr('y',o.xly).attr('text-anchor','middle').attr('font-family','Liberation Sans').attr('font-size',14.5).attr('fill','#333').text('Score 1');
  g.append('text').attr('transform',`translate(${o.ylx},${o.yly}) rotate(-90)`).attr('text-anchor','middle').attr('font-family','Liberation Sans').attr('font-size',14.5).attr('fill','#333').text('Score 2');
  return {x,y,plot,o};
}
function st(s){
  s.selectAll('path.domain').attr('stroke','#404040').attr('stroke-width',1.3);
  s.selectAll('line').attr('stroke','#404040');
  s.selectAll('text').attr('font-family','Liberation Sans').attr('font-size',13.5).attr('fill','#444');
}
function poly(P,pts,fill,stroke,curve,parent){
  const l=d3.line().x(d=>P.x(d[0])).y(d=>P.y(d[1])).curve(curve||d3.curveLinearClosed);
  return (parent||P.plot).append('path').attr('d',l(pts)).attr('fill',fill).attr('stroke',stroke||'none').attr('stroke-width',stroke?1.1:0).attr('stroke-linejoin','round');
}
const smooth=d3.curveCatmullRomClosed.alpha(.5);
function cluster(P,a){
  const blue='#0a3cf0',cyan='#00b0f0',yel='#c6f000';
  const g=P.plot.append('g').attr('filter','url(#fuzz)');
  poly(P,a.sparse,dots(blue,.09,2),null,smooth,g);
  poly(P,a.dense,dots(blue,.55,2),null,smooth,g);
  poly(P,a.dense,dots(cyan,.025,2),null,smooth,g);
  poly(P,a.dense,dots(yel,.005,2),null,smooth,g);
  (a.cyanLow||[]).forEach(c=>{poly(P,c,dots(cyan,.12,2),null,smooth,g);poly(P,c,dots(yel,.016,2),null,smooth,g);});
  a.cyan.forEach(c=>{poly(P,c,dots(cyan,.25,2),null,smooth,g);poly(P,c,dots(yel,.03,2),null,smooth,g);});
  a.yellow.forEach(c=>{poly(P,c,dots(cyan,.25,2),null,smooth,g);poly(P,c,dots(yel,.13,2),null,smooth,g);});
  a.solid.forEach(c=>{poly(P,c,dots(yel,.6,2),null,smooth,g);});
}
const rgbDensity={vlow:.02,low:.05,mid:.12,high:.3,full:.55};
function rgb(P,regions,px,py,pc){
  const g=P.plot.append('g').attr('filter','url(#fuzz)');
  regions.forEach(r=>poly(P,r[2],dots(r[0],rgbDensity[r[1]],1.8),null,smooth,g));
  P.plot.selectAll('.pt').data(px).enter().append('rect').attr('x',(d)=>P.x(d)-.75).attr('y',(d,i)=>P.y(py[i])-.75).attr('width',1.5).attr('height',1.5).attr('fill',(d,i)=>pc[i]);
}
function ellipses(P,list,fill,rough){
  P.plot.selectAll('.ring').data(list,(d,i)=>i+fill).enter().append('ellipse')
   .attr('cx',d=>P.x(d[0])).attr('cy',d=>P.y(d[1]))
   .attr('rx',d=>Math.abs(P.x(d[2])-P.x(0))).attr('ry',d=>Math.abs(P.y(d[3])-P.y(0)))
   .attr('fill',fill).attr('stroke',rough?'#111':'none').attr('stroke-width',1);
}
function contour(P,gray,holes,cs,specks,mode,rings,gaps){
  const gg=P.plot.append('g').attr('filter','url(#roughGray)');
  poly(P,gray,'#e6e6e6',null,null,gg);
  (holes||[]).forEach(h=>{
    const c=[[h[0]-h[2],h[1]],[h[0],h[1]+h[2]*P.k],[h[0]+h[2],h[1]],[h[0],h[1]-h[2]*P.k]];
    poly(P,c,'#fff');
  });
  cs.forEach(c=>{
    const p=poly(P,c[1],levelColors[c[0]],'#111',smooth);
    if(mode==='heavy'&&c[0]<=2)p.attr('filter','url(#rough5)');
    else if(mode==='heavy'&&c[0]<=4)p.attr('filter','url(#rough3)');
    else if(mode==='light'&&c[0]===0)p.attr('filter','url(#rough3)');
  });
  if(rings)ellipses(P,rings,'#2a8cdc',true);
  if(gaps)ellipses(P,gaps,'#fff',false);
  P.plot.selectAll('.sp').data(specks).enter().append('rect').attr('x',d=>P.x(d[0])-1.2).attr('y',d=>P.y(d[1])-.7).attr('width',2.4).attr('height',1.4).attr('fill','#111');
  P.plot.append('rect').attr('x',P.o.l).attr('y',P.o.t).attr('width',P.o.r-P.o.l).attr('height',P.o.b-P.o.t).attr('fill','url(#weave)');
}
const P1=panel({l:58.3,r:441,t:29,b:331,xd:[-1.5,1],yd:[-.8,.6],xt:ticks1X,yt:ticks1Y,title:'Cluster Plot, Scores (1,2)',tx:233,ty:23,xlx:247,xly:366,ylx:22,yly:178});
cluster(P1,{sparse:p1Sparse,dense:p1Dense,cyan:p1Cyan,yellow:p1Yellow,solid:p1Solid});
const P2=panel({l:560.3,r:941,t:29,b:331,xd:[-1.25,.745],yd:[-.733,.397],xt:ticks2X,yt:ticks2Y,title:'Clusters: RGB Approximation',tx:735,ty:23,xlx:743,xly:366,ylx:524,yly:179});
rgb(P2,p2Regions,p2PointX,p2PointY,p2PointC);
const P3=panel({l:58.3,r:441,t:403,b:705.7,xd:[-.761,.447],yd:[-1.277,.755],xt:ticks3X,yt:ticks3Y,title:'Density Contour',tx:240,ty:397,xlx:247,xly:740,ylx:22,yly:555});
P3.k=2.1;contour(P3,gray34,holes3,p3Contours,p3Specks,'none');
const P4=panel({l:560.3,r:941,t:418,b:707,xd:[-.761,.439],yd:[-1.273,.752],xt:ticks3X,yt:ticks3Y,title:'Density Contour: Log Scale',tx:736,ty:412,xlx:743,xly:741,ylx:524,yly:564});
P4.k=2.2;contour(P4,gray34,null,p4Contours,p4Specks,'heavy',p4Rings,p4Gaps);
const P5=panel({l:58.3,r:441,t:776,b:1065,xd:[-1.08,.866],yd:[-.739,.387],xt:ticks5X,yt:ticks5Y,title:'Cluster Plot, Scores (1,2)',tx:233,ty:770,xlx:241,xly:1100,ylx:22,yly:922});
cluster(P5,{sparse:p5Sparse,dense:p5Dense,cyanLow:p5CyanLow,cyan:p5Cyan,yellow:p5Yellow,solid:p5Solid});
const P6=panel({l:560.3,r:941,t:776,b:1065,xd:[-1.06,.833],yd:[-.717,.366],xt:ticks5X,yt:ticks5Y,title:'Clusters: RGB Approximation',tx:736,ty:770,xlx:743,xly:1100,ylx:524,yly:922});
rgb(P6,p6Regions,p6PointX,p6PointY,p6PointC);
const P7=panel({l:58.3,r:441,t:1135,b:1437.3,xd:[-.757,.379],yd:[-1.068,.882],xt:ticks7X,yt:ticks7Y,title:'Density Contour',tx:240,ty:1129,xlx:247,xly:1473,ylx:22,yly:1287});
P7.k=2.17;contour(P7,gray78,holes7,p7Contours,p7Specks,'light');
const P8=panel({l:560.3,r:941,t:1150,b:1439.7,xd:[-.756,.374],yd:[-1.076,.888],xt:ticks7X,yt:ticks7Y,title:'Density Contour: Log Scale',tx:736,ty:1145,xlx:743,xly:1474,ylx:524,yly:1296});
P8.k=2.28;contour(P8,gray78,null,p8Contours,p8Specks,'heavy',p8Rings,p8Gaps);
</script></body></html>
